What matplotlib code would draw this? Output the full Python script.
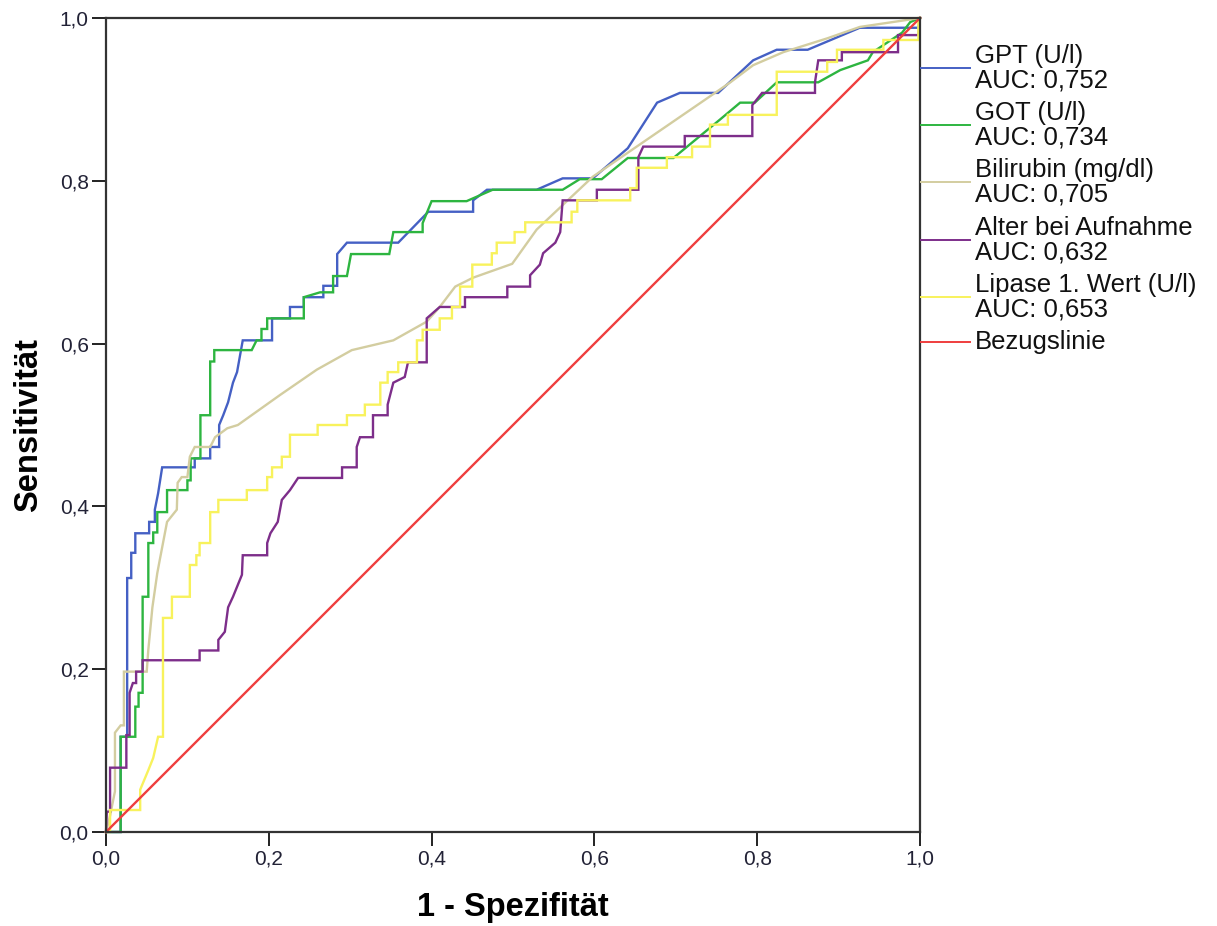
import matplotlib
matplotlib.use("Agg")
import matplotlib.pyplot as plt
from matplotlib.lines import Line2D

plt.rcParams["font.family"] = ["Liberation Sans", "DejaVu Sans"]

# ROC-Kurven (1 - Spezifität, Sensitivität)
GPT = [(0, 0), (0.018, 0), (0.018, 0.117), (0.026, 0.117), (0.026, 0.312), (0.031, 0.312),
       (0.031, 0.343), (0.036, 0.343), (0.036, 0.367), (0.053, 0.367), (0.053, 0.381),
       (0.060, 0.381), (0.060, 0.396), (0.064, 0.416), (0.069, 0.448), (0.109, 0.448),
       (0.109, 0.459), (0.128, 0.459), (0.128, 0.473), (0.139, 0.473), (0.139, 0.500),
       (0.144, 0.512), (0.150, 0.528), (0.156, 0.552), (0.161, 0.565), (0.168, 0.604),
       (0.204, 0.604), (0.204, 0.631), (0.226, 0.631), (0.226, 0.645), (0.243, 0.645),
       (0.243, 0.657), (0.267, 0.657), (0.267, 0.671), (0.284, 0.671), (0.284, 0.710),
       (0.296, 0.724), (0.359, 0.724), (0.396, 0.762), (0.451, 0.762), (0.451, 0.776),
       (0.468, 0.789), (0.529, 0.789), (0.561, 0.803), (0.598, 0.803), (0.641, 0.840),
       (0.677, 0.896), (0.705, 0.908), (0.752, 0.908), (0.795, 0.948), (0.824, 0.961),
       (0.862, 0.961), (0.926, 0.988), (0.998, 0.988), (1.0, 1.0)]
GOT = [(0, 0), (0.018, 0), (0.018, 0.117), (0.036, 0.117), (0.036, 0.154), (0.040, 0.154),
       (0.040, 0.171), (0.045, 0.171), (0.045, 0.289), (0.052, 0.289), (0.052, 0.355),
       (0.058, 0.355), (0.058, 0.368), (0.063, 0.368), (0.063, 0.393), (0.075, 0.393),
       (0.075, 0.420), (0.100, 0.420), (0.100, 0.432), (0.104, 0.432), (0.104, 0.459),
       (0.116, 0.459), (0.116, 0.512), (0.128, 0.512), (0.128, 0.578), (0.133, 0.578),
       (0.133, 0.592), (0.179, 0.592), (0.185, 0.604), (0.191, 0.604), (0.191, 0.618),
       (0.198, 0.618), (0.198, 0.631), (0.243, 0.631), (0.243, 0.657), (0.263, 0.663),
       (0.279, 0.663), (0.279, 0.683), (0.296, 0.683), (0.301, 0.710), (0.348, 0.710),
       (0.353, 0.737), (0.389, 0.737), (0.389, 0.748), (0.400, 0.775), (0.443, 0.775),
       (0.475, 0.789), (0.561, 0.789), (0.582, 0.802), (0.609, 0.802), (0.641, 0.828),
       (0.697, 0.828), (0.754, 0.875), (0.779, 0.896), (0.797, 0.896), (0.824, 0.921),
       (0.875, 0.921), (0.902, 0.936), (0.936, 0.948), (0.942, 0.958), (0.978, 0.982),
       (0.988, 0.995), (1.0, 1.0)]
BILI = [(0, 0), (0.005, 0.020), (0.011, 0.050), (0.011, 0.122), (0.018, 0.131), (0.022, 0.131),
        (0.022, 0.197), (0.050, 0.197), (0.052, 0.224), (0.057, 0.276), (0.063, 0.318),
        (0.066, 0.334), (0.075, 0.381), (0.087, 0.396), (0.088, 0.429), (0.093, 0.436),
        (0.100, 0.436), (0.103, 0.461), (0.109, 0.473), (0.128, 0.473), (0.134, 0.485),
        (0.149, 0.496), (0.162, 0.500), (0.214, 0.537), (0.259, 0.568), (0.302, 0.592),
        (0.353, 0.604), (0.394, 0.627), (0.410, 0.645), (0.429, 0.670), (0.451, 0.681),
        (0.499, 0.698), (0.529, 0.740), (0.598, 0.805), (0.754, 0.912), (0.767, 0.921),
        (0.795, 0.942), (0.832, 0.958), (0.886, 0.975), (0.926, 0.989), (1.0, 1.0)]
ALTER = [(0, 0), (0.001, 0.025), (0.005, 0.025), (0.005, 0.079), (0.025, 0.079), (0.025, 0.119),
         (0.029, 0.119), (0.029, 0.171), (0.033, 0.183), (0.037, 0.183), (0.037, 0.197),
         (0.045, 0.197), (0.045, 0.211), (0.115, 0.211), (0.115, 0.223), (0.138, 0.223),
         (0.138, 0.236), (0.146, 0.246), (0.150, 0.276), (0.156, 0.289), (0.167, 0.316),
         (0.168, 0.340), (0.198, 0.340), (0.198, 0.355), (0.202, 0.367), (0.211, 0.381),
         (0.216, 0.408), (0.226, 0.420), (0.236, 0.435), (0.290, 0.435), (0.290, 0.448),
         (0.308, 0.448), (0.308, 0.473), (0.312, 0.485), (0.328, 0.485), (0.328, 0.512),
         (0.346, 0.512), (0.346, 0.525), (0.353, 0.552), (0.367, 0.559), (0.371, 0.577),
         (0.394, 0.577), (0.394, 0.631), (0.410, 0.645), (0.441, 0.645), (0.441, 0.657),
         (0.493, 0.657), (0.493, 0.670), (0.521, 0.670), (0.521, 0.684), (0.533, 0.697),
         (0.537, 0.711), (0.552, 0.724), (0.558, 0.737), (0.561, 0.776), (0.603, 0.776),
         (0.603, 0.789), (0.654, 0.789), (0.654, 0.829), (0.660, 0.842), (0.711, 0.842),
         (0.711, 0.855), (0.794, 0.855), (0.794, 0.893), (0.806, 0.908), (0.871, 0.908),
         (0.871, 0.921), (0.875, 0.948), (0.904, 0.948), (0.904, 0.958), (0.973, 0.958),
         (0.973, 0.979), (0.998, 0.979), (1.0, 1.0)]
LIPASE = [(0, 0), (0.005, 0), (0.005, 0.027), (0.042, 0.027), (0.042, 0.052), (0.052, 0.076),
          (0.058, 0.091), (0.064, 0.117), (0.070, 0.117), (0.070, 0.263), (0.081, 0.263),
          (0.081, 0.289), (0.103, 0.289), (0.103, 0.328), (0.111, 0.328), (0.111, 0.340),
          (0.115, 0.340), (0.115, 0.355), (0.128, 0.355), (0.128, 0.393), (0.138, 0.393),
          (0.138, 0.408), (0.173, 0.408), (0.173, 0.420), (0.198, 0.420), (0.198, 0.436),
          (0.204, 0.436), (0.204, 0.448), (0.216, 0.448), (0.216, 0.461), (0.226, 0.461),
          (0.226, 0.488), (0.260, 0.488), (0.260, 0.500), (0.296, 0.500), (0.296, 0.512),
          (0.318, 0.512), (0.318, 0.525), (0.337, 0.525), (0.337, 0.552), (0.346, 0.552),
          (0.346, 0.565), (0.359, 0.565), (0.359, 0.577), (0.382, 0.577), (0.382, 0.604),
          (0.389, 0.604), (0.389, 0.617), (0.410, 0.617), (0.410, 0.631), (0.425, 0.631),
          (0.425, 0.645), (0.435, 0.645), (0.435, 0.670), (0.450, 0.670), (0.450, 0.697),
          (0.474, 0.697), (0.474, 0.711), (0.480, 0.711), (0.480, 0.724), (0.502, 0.724),
          (0.502, 0.737), (0.515, 0.737), (0.515, 0.749), (0.572, 0.749), (0.572, 0.762),
          (0.579, 0.762), (0.579, 0.776), (0.644, 0.776), (0.644, 0.791), (0.652, 0.791),
          (0.652, 0.816), (0.689, 0.816), (0.689, 0.829), (0.720, 0.829), (0.720, 0.842),
          (0.742, 0.842), (0.742, 0.869), (0.764, 0.869), (0.764, 0.881), (0.824, 0.881),
          (0.824, 0.934), (0.886, 0.934), (0.886, 0.946), (0.898, 0.946), (0.898, 0.961),
          (0.955, 0.961), (0.955, 0.973), (0.998, 0.973), (0.998, 1.0), (1.0, 1.0)]
REF = [(0, 0), (1, 1)]

LABELS = ["GPT (U/l)\nAUC: 0,752", "GOT (U/l)\nAUC: 0,734", "Bilirubin (mg/dl)\nAUC: 0,705",
          "Alter bei Aufnahme\nAUC: 0,632", "Lipase 1. Wert (U/l)\nAUC: 0,653", "Bezugslinie"]
CURVES = [GPT, GOT, BILI, ALTER, LIPASE, REF]
COLORS = ["#4560c4", "#2db540", "#d3cda0", "#7d2e8a", "#f8f25c", "#ef3e3e"]
TICKS = [0.0, 0.2, 0.4, 0.6, 0.8, 1.0]

fig = plt.figure(figsize=(12.17, 9.26), dpi=100)
ax = fig.add_axes([106 / 1217, 94 / 926, 814 / 1217, 814 / 926])

for pts, col in zip(CURVES, COLORS):
    xs, ys = zip(*pts)
    ax.plot(xs, ys, color=col, lw=1.7, solid_joinstyle="miter", clip_on=False)

ax.set_xlim(0, 1); ax.set_ylim(0, 1)
ax.set_xticks(TICKS); ax.set_yticks(TICKS)
ax.set_xticklabels([f"{t:.1f}".replace(".", ",") for t in TICKS])
ax.set_yticklabels([f"{t:.1f}".replace(".", ",") for t in TICKS])
ax.tick_params(direction="out", length=10, width=1.4, labelsize=15, pad=2.5,
               labelcolor="#222236", color="#222222")
for s in ax.spines.values():
    s.set_color("#333333"); s.set_linewidth(1.6)

ax.set_xlabel("1 - Spezifität", fontsize=23.5, fontweight="bold", labelpad=17)
ax.set_ylabel("Sensitivität", fontsize=23.5, fontweight="bold", labelpad=11)

# Legende rechts neben dem Diagramm, Linien beginnen an der Achse
leg_y = [68, 125, 182, 240, 297, 342]
for lab, col, py in zip(LABELS, COLORS, leg_y):
    yf = 1 - py / 926
    fig.add_artist(Line2D([921 / 1217, 970 / 1217], [yf, yf], color=col, lw=1.4,
                          transform=fig.transFigure))
    fig.text(975 / 1217, yf, lab, fontsize=18.5, va="center", ha="left",
             linespacing=1.05, color="#111111")

fig.savefig("out.png", dpi=100, facecolor="white")
